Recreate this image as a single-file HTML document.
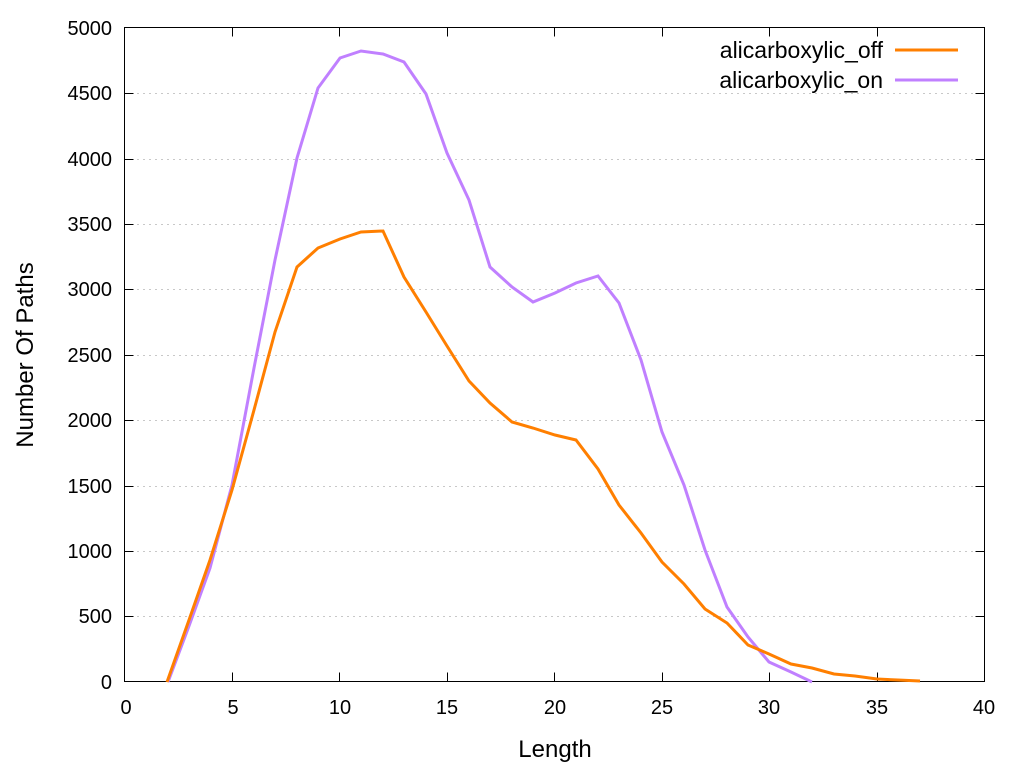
<!DOCTYPE html>
<html><head><meta charset="utf-8"><style>body{margin:0;background:#fff}</style></head><body>
<svg width="1024" height="768" xmlns="http://www.w3.org/2000/svg" font-family="Liberation Sans, Arial, sans-serif" font-size="20">
<rect width="1024" height="768" fill="#fff"/>
<g stroke="#c8c8c8" stroke-width="1" stroke-dasharray="2,4">
<line x1="125" y1="616.5" x2="984" y2="616.5"/><line x1="125" y1="551.5" x2="984" y2="551.5"/>
<line x1="125" y1="486.5" x2="984" y2="486.5"/><line x1="125" y1="420.5" x2="984" y2="420.5"/>
<line x1="125" y1="355.5" x2="984" y2="355.5"/><line x1="125" y1="289.5" x2="984" y2="289.5"/>
<line x1="125" y1="224.5" x2="984" y2="224.5"/><line x1="125" y1="159.5" x2="984" y2="159.5"/>
<line x1="125" y1="93.5" x2="984" y2="93.5"/>
</g>
<g stroke="#000" stroke-width="1">
<rect x="124.5" y="27.5" width="860" height="654" fill="none"/>
<path d="M124.5 616.5h9M124.5 551.5h9M124.5 486.5h9M124.5 420.5h9M124.5 355.5h9M124.5 289.5h9M124.5 224.5h9M124.5 159.5h9M124.5 93.5h9
M984.5 616.5h-9M984.5 551.5h-9M984.5 486.5h-9M984.5 420.5h-9M984.5 355.5h-9M984.5 289.5h-9M984.5 224.5h-9M984.5 159.5h-9M984.5 93.5h-9
M232.5 681.5v-9M339.5 681.5v-9M447.5 681.5v-9M554.5 681.5v-9M662.5 681.5v-9M769.5 681.5v-9M877.5 681.5v-9
M232.5 27.5v9M339.5 27.5v9M447.5 27.5v9M554.5 27.5v9M662.5 27.5v9M769.5 27.5v9M877.5 27.5v9"/>
</g>
<g text-anchor="end">
<text x="112" y="689">0</text><text x="112" y="623">500</text><text x="112" y="558">1000</text>
<text x="112" y="493">1500</text><text x="112" y="427">2000</text><text x="112" y="362">2500</text>
<text x="112" y="296">3000</text><text x="112" y="231">3500</text><text x="112" y="166">4000</text>
<text x="112" y="100">4500</text><text x="112" y="35">5000</text>
</g>
<g text-anchor="middle">
<text x="126" y="714">0</text><text x="233" y="714">5</text><text x="340" y="714">10</text>
<text x="447" y="714">15</text><text x="555" y="714">20</text><text x="662" y="714">25</text>
<text x="769" y="714">30</text><text x="877" y="714">35</text><text x="984" y="714">40</text>
<text x="555" y="757" font-size="24">Length</text>
<text transform="translate(33,355) rotate(-90)" font-size="24">Number Of Paths</text>
</g>
<polyline fill="none" stroke="#c080ff" stroke-width="3" stroke-linejoin="miter" points="168,682 189,626 210,568 232,485 254,368 275,260 297,158 318,88 340,58 361,51 383,54 404,62 426,94 447,153 469,200 490,267 512,287 533,302 555,293 576,283 598,276 619,303 641,360 662,432 684,485 705,550 727,607 748,637 769,662 791,672 812,682"/>
<polyline fill="none" stroke="#ff7f00" stroke-width="3" points="167,682 189,620 210,560 232,490 254,410 275,332 297,267 318,248 340,239 361,232 383,231 404,277 426,312 447,346 469,381 490,403 512,422 533,428 555,435 576,440 598,469 619,505 641,533 662,562 684,584 705,609 727,623 748,645 769,654 791,664 812,668 834,674 855,676 877,679 898,680 920,681"/>
<g text-anchor="end" font-size="23">
<text x="883" y="58">alicarboxylic_off</text>
<text x="883" y="88">alicarboxylic_on</text>
</g>
<line x1="895" y1="50" x2="958" y2="50" stroke="#ff7f00" stroke-width="3"/>
<line x1="895" y1="80" x2="958" y2="80" stroke="#c080ff" stroke-width="3"/>
</svg>
</body></html>
